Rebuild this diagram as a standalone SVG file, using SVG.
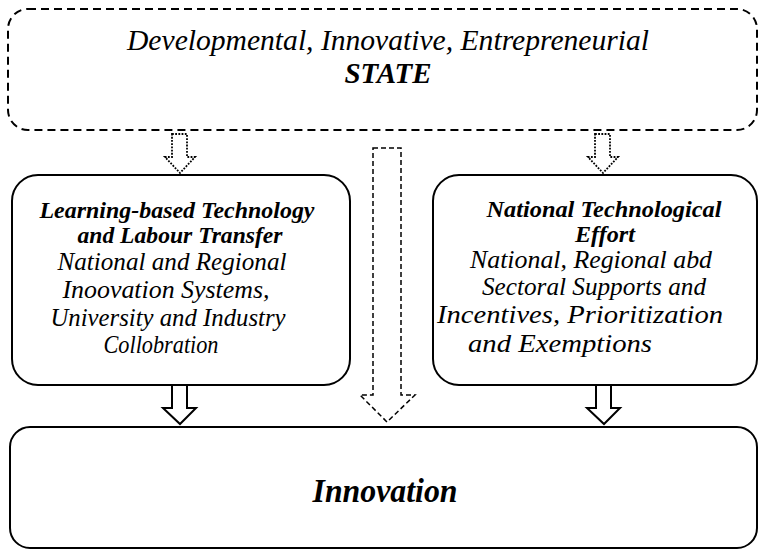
<svg xmlns="http://www.w3.org/2000/svg" width="760" height="552" viewBox="0 0 760 552">
<style>
.box{fill:#fff;stroke:#000;stroke-width:2}
.dbox{fill:#fff;stroke:#000;stroke-width:2;stroke-dasharray:8 5}
.t{font-family:'Liberation Serif','Times New Roman',serif;font-style:italic;fill:#000;text-anchor:middle}
.b{font-weight:bold}
.sarrow{fill:#fff;stroke:#000;stroke-width:2;stroke-linejoin:miter}
.dotarrow{fill:#fff;stroke:#000;stroke-width:1.8;stroke-dasharray:1.8 1.4}
.dasharrow{fill:#fff;stroke:#000;stroke-width:1.5;stroke-dasharray:5 3}
</style>
<rect width="760" height="552" fill="#fff"/>
<g id="state">
<rect class="dbox" x="8" y="9" width="749" height="121" rx="20"/>
<text class="t" font-family="Liberation Serif" x="388" y="50" font-size="29" textLength="522" lengthAdjust="spacingAndGlyphs">Developmental, Innovative, Entrepreneurial</text>
<text class="t b" font-family="Liberation Serif" x="388" y="83" font-size="29">STATE</text>
</g>
<g id="learning">
<rect class="box" x="12" y="175" width="338" height="210" rx="26"/>
<text class="t b" font-family="Liberation Serif" x="177" y="218" font-size="24" textLength="275" lengthAdjust="spacingAndGlyphs">Learning-based Technology</text>
<text class="t b" font-family="Liberation Serif" x="180" y="243" font-size="24" textLength="205" lengthAdjust="spacingAndGlyphs">and Labour Transfer</text>
<text class="t" font-family="Liberation Serif" x="172" y="270" font-size="25" textLength="229" lengthAdjust="spacingAndGlyphs">National and Regional</text>
<text class="t" font-family="Liberation Serif" x="166" y="298" font-size="25" textLength="207" lengthAdjust="spacingAndGlyphs">Inoovation Systems,</text>
<text class="t" font-family="Liberation Serif" x="168" y="326" font-size="25" textLength="235" lengthAdjust="spacingAndGlyphs">University and Industry</text>
<text class="t" font-family="Liberation Serif" x="161" y="353" font-size="25" textLength="115" lengthAdjust="spacingAndGlyphs">Collobration</text>
</g>
<g id="national">
<rect class="box" x="433" y="175" width="324" height="210" rx="26"/>
<text class="t b" font-family="Liberation Serif" x="604" y="217" font-size="24" textLength="235" lengthAdjust="spacingAndGlyphs">National Technological</text>
<text class="t b" font-family="Liberation Serif" x="605" y="242" font-size="24" textLength="60" lengthAdjust="spacingAndGlyphs">Effort</text>
<text class="t" font-family="Liberation Serif" x="591" y="268" font-size="25" textLength="242" lengthAdjust="spacingAndGlyphs">National, Regional abd</text>
<text class="t" font-family="Liberation Serif" x="594" y="295" font-size="25" textLength="224" lengthAdjust="spacingAndGlyphs">Sectoral Supports and</text>
<text class="t" font-family="Liberation Serif" x="580" y="323" font-size="25" textLength="286" lengthAdjust="spacingAndGlyphs">Incentives, Prioritization</text>
<text class="t" font-family="Liberation Serif" x="560" y="352" font-size="25" textLength="184" lengthAdjust="spacingAndGlyphs">and Exemptions</text>
</g>
<g id="innovation">
<rect class="box" x="10" y="427" width="747" height="121" rx="20"/>
<text class="t b" font-family="Liberation Serif" x="385" y="502" font-size="33" textLength="145" lengthAdjust="spacingAndGlyphs">Innovation</text>
</g>
<g id="connectors">
<polygon class="dotarrow" points="172,134 187,134 187,157 195,157 180,173 165,157 172,157"/>
<polygon class="dotarrow" points="595,134 610,134 610,157 618,157 603,173 588,157 595,157"/>
<polygon class="dasharrow" points="373,148 401,148 401,395 415,395 387,422 360,395 373,395"/>
<polygon class="sarrow" points="172,385 187,385 187,408 196,408 180,424 163,408 172,408"/>
<polygon class="sarrow" points="596,385 611,385 611,408 620,408 604,424 587,408 596,408"/>
</g>
</svg>
